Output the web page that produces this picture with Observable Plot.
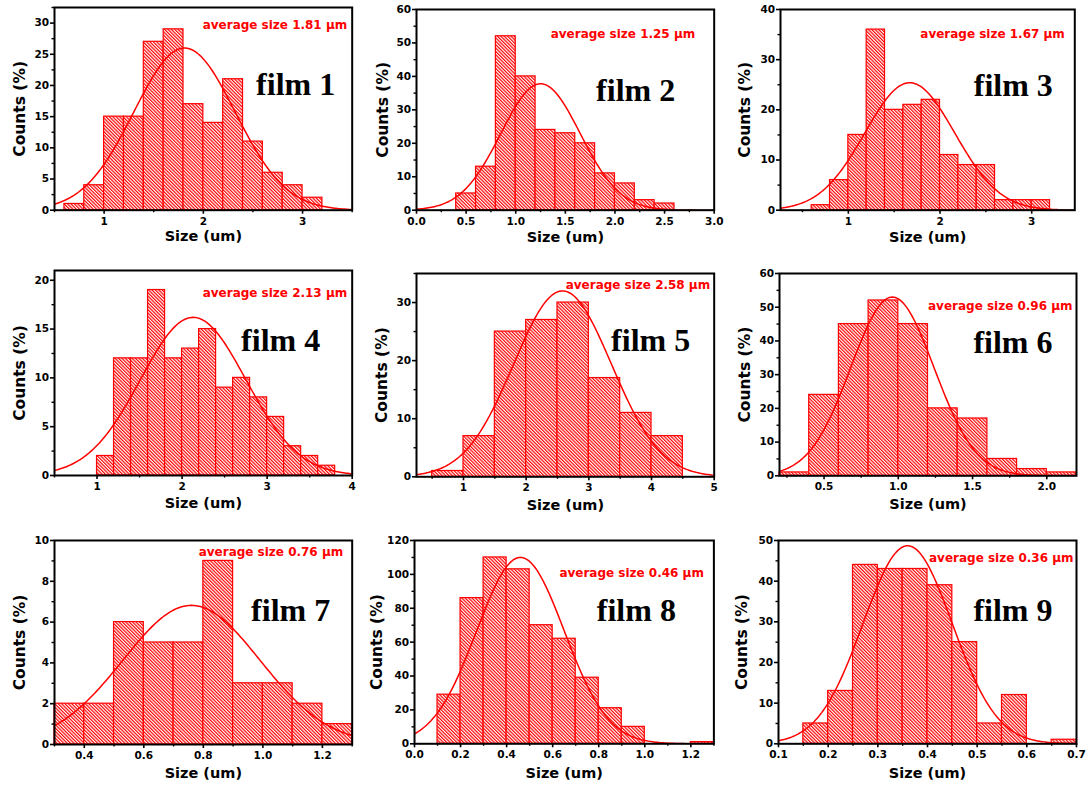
<!DOCTYPE html>
<html><head><meta charset="utf-8">
<script src="https://cdn.jsdelivr.net/npm/d3@7"></script>
<script src="https://cdn.jsdelivr.net/npm/@observablehq/plot@0.6"></script>
<style>
body{margin:0;background:#fff;}
#chart{position:relative;width:1087px;height:787px;overflow:hidden;background:#fff;}
#chart svg{position:absolute;overflow:visible;background:transparent;}
</style></head><body><div id="chart"></div>
<script>
// ---------- data ----------
const films = ["film 1","film 2","film 3","film 4","film 5","film 6","film 7","film 8","film 9"];
const averageSizes = [1.81, 1.25, 1.67, 2.13, 2.58, 0.96, 0.76, 0.46, 0.36];
// Gaussian fit: peak height and width (sigma), centred on average size
const fitPeaks = [26, 37.8, 25.4, 16.2, 32, 53, 6.82, 110, 48.7];
const fitWidths = [0.51, 0.40, 0.49, 0.62, 0.78, 0.28, 0.23, 0.19, 0.09];

const film1Edges = [0.6,0.8,1.0,1.2,1.4,1.6,1.8,2.0,2.2,2.4,2.6,2.8,3.0,3.2];
const film1Counts = [1,4,15,15,27,29,17,14,21,11,6,4,2];
const film2Edges = [0.4,0.6,0.8,1.0,1.2,1.4,1.6,1.8,2.0,2.2,2.4,2.6];
const film2Counts = [5,13,52,40,24,23,20,11,8,3,2];
const film3Edges = [0.6,0.8,1.0,1.2,1.4,1.6,1.8,2.0,2.2,2.4,2.6,2.8,3.0,3.2];
const film3Counts = [1,6,15,36,20,21,22,11,9,9,2,2,2];
const film4Edges = [1.0,1.2,1.4,1.6,1.8,2.0,2.2,2.4,2.6,2.8,3.0,3.2,3.4,3.6,3.8];
const film4Counts = [2,12,12,19,12,13,15,9,10,8,6,3,2,1];
const film5Edges = [0.5,1.0,1.5,2.0,2.5,3.0,3.5,4.0,4.5];
const film5Counts = [1,7,25,27,30,17,11,7];
const film6Edges = [0.2,0.4,0.6,0.8,1.0,1.2,1.4,1.6,1.8,2.0,2.2];
const film6Counts = [1,24,45,52,45,20,17,5,2,1];
const film7Edges = [0.3,0.4,0.5,0.6,0.7,0.8,0.9,1.0,1.1,1.2,1.3];
const film7Counts = [2,2,6,5,5,9,3,3,2,1];
const film8Edges = [0.1,0.2,0.3,0.4,0.5,0.6,0.7,0.8,0.9,1.0,1.1,1.2,1.3];
const film8Counts = [29,86,110,103,70,62,39,21,10,0,0,1];
const film9Edges = [0.15,0.2,0.25,0.3,0.35,0.4,0.45,0.5,0.55,0.6,0.65,0.7];
const film9Counts = [5,13,44,43,43,39,25,5,12,0,1];

const allEdges = [film1Edges,film2Edges,film3Edges,film4Edges,film5Edges,film6Edges,film7Edges,film8Edges,film9Edges];
const allCounts = [film1Counts,film2Counts,film3Counts,film4Counts,film5Counts,film6Counts,film7Counts,film8Counts,film9Counts];

// axes
const xDomains = [[0.5,3.5],[0,3],[0.26,3.47],[0.5,4],[0.25,5],[0.2,2.2],[0.3,1.3],[0,1.3],[0.1,0.7]];
const yMaxima = [32.5,60,40,21,35,60,10,120,50];
const xTicks = [[1,2,3],[0,0.5,1,1.5,2,2.5,3],[1,2,3],[1,2,3,4],[1,2,3,4,5],[0.5,1,1.5,2],[0.4,0.6,0.8,1,1.2],[0,0.2,0.4,0.6,0.8,1,1.2],[0.1,0.2,0.3,0.4,0.5,0.6,0.7]];
const xTickDecimals = [0,1,0,0,0,1,1,1,1];
const yTicks = [[0,5,10,15,20,25,30],[0,10,20,30,40,50,60],[0,10,20,30,40],[0,5,10,15,20],[0,10,20,30],[0,10,20,30,40,50,60],[0,2,4,6,8,10],[0,20,40,60,80,100,120],[0,10,20,30,40,50]];
const xTitle = "Size (um)";
const yTitle = "Counts (%)";

// ---------- layout (pixels) ----------
const frameLeft = [54.3,416.3,779.7,54.3,416.3,779,54.3,414.3,778.3];
const frameRight = [352,714,1074,352,714,1076,352,713.7,1076.3];
const frameTop = [7.3,9.3,9.3,270,272.7,272.7,540,540,540];
const frameBottom = [210,210,210,475,476,475,744,743.3,743.3];
const avgInset = [5,19,10,5,4,4,9,10,3];
const avgDy = [18,25,25,23,12,33,12,33,18];
const filmInset = [17,39,22,32,24,24,22,38,24];
const filmDy = [77,81,76,70,67,69,70,70,70];
const yTitleOffset = [34,33,35,34,34,34,34,37,36];
const xTitleOffset = [26,27,27,28,29,28.5,29,30,30];

const RED = "#ff0000";
const ML = 50, MR = 10, MT = 5, MB = 40;
const chart = document.getElementById("chart");

function minorTicks(major, dom) {
  const step = major[1] - major[0];
  const out = [];
  for (let v = major[0] - step/2; v <= dom[1] + 1e-9; v += step) {
    if (v >= dom[0] - 1e-9) out.push(+v.toFixed(6));
  }
  return out;
}
function minorY(major, max) {
  const step = major[1] - major[0];
  const out = [];
  for (let v = step/2; v <= max + 1e-9; v += step) out.push(v);
  return out;
}

films.forEach((name, i) => {
  const edges = allEdges[i], counts = allCounts[i];
  const bars = counts.map((c, k) => ({x1: edges[k], x2: edges[k+1], y: c})).filter(d => d.y > 0);
  const [lo, hi] = xDomains[i];
  const n = 200;
  const fit = d3.range(n + 1).map(k => {
    const x = lo + (hi - lo) * k / n;
    return {x, y: fitPeaks[i] * Math.exp(-0.5 * ((x - averageSizes[i]) / fitWidths[i]) ** 2)};
  });
  const W = frameRight[i] - frameLeft[i], H = frameBottom[i] - frameTop[i];
  const fmt = d3.format("." + xTickDecimals[i] + "f");
  const svg = Plot.plot({
    width: W + ML + MR, height: H + MT + MB,
    marginLeft: ML, marginRight: MR, marginTop: MT, marginBottom: MB,
    style: {fontFamily: "DejaVu Sans", fontSize: "10.5px", fontWeight: "bold", color: "black", background: "transparent", overflow: "visible"},
    x: {domain: xDomains[i]},
    y: {domain: [0, yMaxima[i]]},
    marks: [
      Plot.rectY(bars, {x1: "x1", x2: "x2", y: "y", fill: `url(#hatch${i})`, stroke: RED, strokeWidth: 1.2}),
      Plot.line(fit, {x: "x", y: "y", stroke: RED, strokeWidth: 1.5, clip: true}),
      Plot.axisX({anchor: "bottom", ticks: xTicks[i], tickSize: 4, tickPadding: 3, tickFormat: fmt, label: null, strokeWidth: 1.6}),
      Plot.axisX({anchor: "bottom", ticks: minorTicks(xTicks[i], xDomains[i]), tickSize: 2.5, tickFormat: () => "", label: null, strokeWidth: 1.4}),
      Plot.axisY({anchor: "left", ticks: yTicks[i], tickSize: 4, tickPadding: 1.5, tickFormat: d3.format("d"), label: null, strokeWidth: 1.6}),
      Plot.axisY({anchor: "left", ticks: minorY(yTicks[i], yMaxima[i]), tickSize: 2.5, tickFormat: () => "", label: null, strokeWidth: 1.4}),
      Plot.frame({stroke: "black", strokeWidth: 2}),
      Plot.text([`average size ${averageSizes[i].toFixed(2)} \u00b5m`], {frameAnchor: "top-right", textAnchor: "end", lineAnchor: "middle", dx: -avgInset[i], dy: avgDy[i], fill: RED, fontSize: 12, fontWeight: "bold", fontFamily: "DejaVu Sans"}),
      Plot.text([name], {frameAnchor: "top-right", textAnchor: "end", lineAnchor: "middle", dx: -filmInset[i], dy: filmDy[i], fill: "black", fontSize: 32, fontWeight: "bold", fontFamily: "Liberation Serif"}),
      Plot.text([xTitle], {frameAnchor: "bottom", textAnchor: "middle", lineAnchor: "middle", dy: xTitleOffset[i], fill: "black", fontSize: 14.5, fontWeight: "bold", fontFamily: "DejaVu Sans"}),
      Plot.text([yTitle], {frameAnchor: "left", textAnchor: "middle", lineAnchor: "middle", dx: -yTitleOffset[i], rotate: -90, fill: "black", fontSize: 15.5, fontWeight: "bold", fontFamily: "DejaVu Sans"})
    ]
  });
  d3.select(svg).insert("defs", ":first-child").html(
    `<pattern id="hatch${i}" patternUnits="userSpaceOnUse" width="2.4" height="2.4" patternTransform="rotate(-45)">
       <rect width="2.4" height="2.4" fill="#ffffff"/>
       <line x1="0.6" y1="0" x2="0.6" y2="2.4" stroke="${RED}" stroke-width="1.2"/>
     </pattern>`);
  svg.style.left = (frameLeft[i] - ML) + "px";
  svg.style.top = (frameTop[i] - MT) + "px";
  chart.appendChild(svg);
});
</script>
</body></html>
